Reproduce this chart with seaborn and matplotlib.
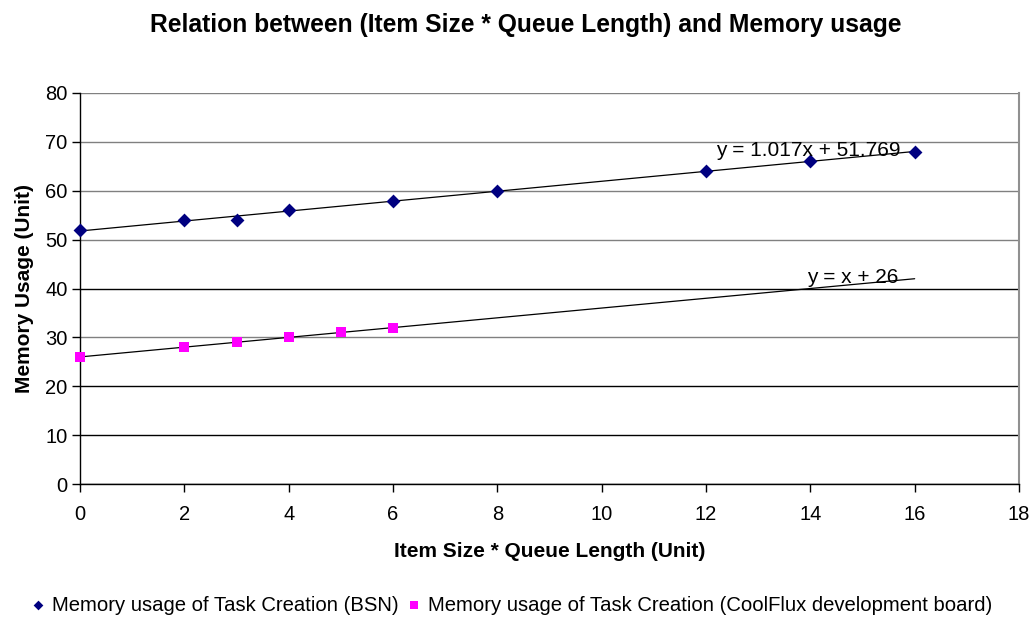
import matplotlib
matplotlib.use("Agg")
import matplotlib.pyplot as plt
import seaborn as sns
import numpy as np
import pandas as pd

# data
bsn_x = [0, 2, 3, 4, 6, 8, 12, 14, 16]
bsn_y = [52, 54, 54, 56, 58, 60, 64, 66, 68]
cf_x = [0, 2, 3, 4, 5, 6]
cf_y = [26, 28, 29, 30, 31, 32]
bsn_label = "Memory usage of Task Creation (BSN)"
cf_label = "Memory usage of Task Creation (CoolFlux development board)"
bsn_fit = (1.017, 51.769)
cf_fit = (1.0, 26.0)
bsn_eq = "y = 1.017x + 51.769"
cf_eq = "y = x + 26"
title = "Relation between (Item Size * Queue Length) and Memory usage"
xlabel = "Item Size * Queue Length (Unit)"
ylabel = "Memory Usage (Unit)"

sns.set_theme(style="white")
plt.rcParams['font.family'] = ['Liberation Sans', 'DejaVu Sans']
plt.rcParams['text.color'] = 'black'
plt.rcParams['axes.labelcolor'] = 'black'

fig = plt.figure(figsize=(10.34, 6.17), dpi=100)
ax = fig.add_axes([80/1034, 1 - 484/617, (1019-80)/1034, (484-93)/617])

df_b = pd.DataFrame({"x": bsn_x, "y": bsn_y})
df_c = pd.DataFrame({"x": cf_x, "y": cf_y})

# trend lines
fx = np.array([0, 16])
ax.plot(fx, bsn_fit[0]*fx + bsn_fit[1], color="black", lw=0.9, zorder=2)
ax.plot(fx, cf_fit[0]*fx + cf_fit[1], color="black", lw=0.9, zorder=2)

sns.scatterplot(data=df_b, x="x", y="y", marker="D", color="#000080", s=50,
                edgecolor="#000080", linewidth=0, ax=ax, zorder=3, label=bsn_label,
                clip_on=False)
sns.scatterplot(data=df_c, x="x", y="y", marker="s", color="#FF00FF", s=60,
                edgecolor="#FF00FF", linewidth=0, ax=ax, zorder=3, label=cf_label,
                clip_on=False)

ax.set_xlim(0, 18)
ax.set_ylim(0, 80)
ax.set_xticks(range(0, 19, 2))
ax.set_yticks(range(0, 81, 10))
ax.yaxis.grid(True, color="#000000", lw=1.0)
for i, gl in enumerate(ax.get_ygridlines()):
    gl.set_color("#808080" if i in (3, 5, 6, 7, 8) else "#000000")
ax.xaxis.grid(False)
ax.set_axisbelow(True)

for s in ["left", "bottom"]:
    ax.spines[s].set_color("black")
    ax.spines[s].set_linewidth(1.0)
ax.spines["right"].set_color("#909090")
ax.spines["right"].set_linewidth(1.5)
ax.spines["top"].set_visible(False)

ax.tick_params(axis="both", which="both", direction="out", length=6, width=1,
               color="black", labelsize=14.5, labelcolor="black",
               bottom=True, left=True)
ax.tick_params(axis="x", pad=9)
ax.tick_params(axis="y", pad=3)

ax.set_xlabel(xlabel, fontsize=15, fontweight="bold", labelpad=13, color="black")
ax.set_ylabel(ylabel, fontsize=15, fontweight="bold", labelpad=8, color="black")
fig.text(526/1034, 1 - 25/617, title, ha="center", va="center", fontsize=17.7,
         fontweight="bold", color="black")

ax.text(12.19, 68.3, bsn_eq, fontsize=15, va="center", ha="left", color="black")
ax.text(13.94, 42.2, cf_eq, fontsize=15, va="center", ha="left", color="black")

ax.legend(loc="center", bbox_to_anchor=(0.46, -0.31), ncol=2, frameon=False,
          handlelength=0.7, handletextpad=0.35, columnspacing=0.4, markerscale=0.7,
          prop={'family': ['Liberation Sans', 'DejaVu Sans'], 'size': 14.6})

fig.savefig("out.png", dpi=100)
